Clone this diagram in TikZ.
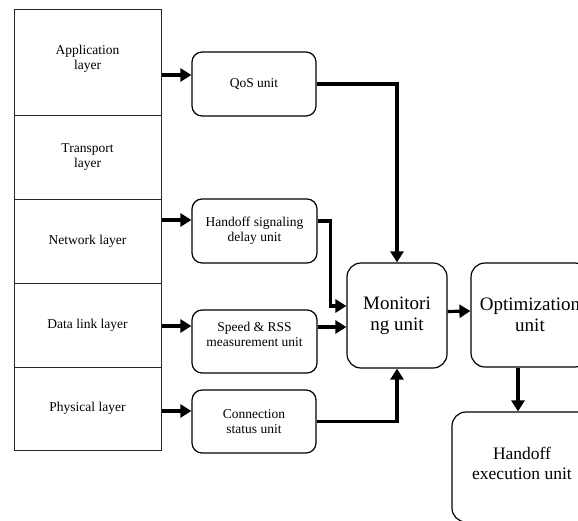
\documentclass[tikz,border=0pt]{standalone}
\usepackage{fontspec}
\setmainfont{Liberation Serif}
\usepackage{tikz}
\usetikzlibrary{arrows.meta}
\usetikzlibrary{positioning}
\tikzset{
    layer/.style = {rectangle, draw=black!85, line width=1pt, align=center, minimum width=147pt, font=\fontsize{13.5}{15}\selectfont},
    unit/.style = {rectangle, rounded corners=10pt, draw=black, line width=1.2pt, align=center, minimum width=124pt, minimum height=64pt, font=\fontsize{13.5}{15}\selectfont},
    bigunit/.style = {rectangle, rounded corners=14pt, draw=black, line width=1.2pt, align=center, font=\fontsize{19}{21}\selectfont},
}

\begin{document}
\begin{tikzpicture}[
	x=1pt,
	y=-1pt
]
\tikzset{
    arr/.style = {-{Triangle[length=11pt,width=13pt]}, line width=3.2pt},
}
\clip (0,0) rectangle (578,520);
\node[layer, minimum height=106pt] at (87.5,62.0) (app) {Application\\layer\\[-5pt]\mbox{}};
\node[layer, minimum height=84pt] at (87.5,157.0) (trans) {Transport\\layer};
\node[layer, minimum height=84pt] at (87.5,241.0) (net) {Network layer};
\node[layer, minimum height=84pt] at (87.5,325.0) (dl) {Data link layer};
\node[layer, minimum height=83pt] at (87.5,408.5) (phy) {Physical layer};
%
\node[unit] at (254.0,84.0) (qos) {QoS unit};
\node[unit, minimum width=125pt] at (254.5,231.0) (hs) {Handoff signaling\\delay unit};
\node[unit, minimum width=125pt, minimum height=63pt, text depth=15pt] at (254.5,341.5) (sp) {Speed \& RSS\\measurement unit};
\node[unit, minimum height=63pt] at (254.0,421.5) (con) {Connection\\status unit};
%
\node[bigunit, minimum width=100pt, minimum height=105pt] at (397.0,315.5) (mon) {Monitori\\ng unit};
\node[bigunit, minimum width=118pt, minimum height=104pt] at (530.0,315.0) (opt) {Optimization\\unit};
\node[bigunit, minimum width=140pt, minimum height=110pt, font=\fontsize{17.5}{20}\selectfont] at (522.0,467.0) (hex) {Handoff\\execution unit\\[-12pt]\mbox{}};
%
\draw[arr] ([yshift=-13pt]app.east) -- ([yshift=9pt]qos.west);
\draw[arr] ([yshift=21pt]net.east) -- ([yshift=11pt]hs.west);
\draw[arr] ([yshift=-1pt]dl.east) -- ([yshift=15.5pt]sp.west);
\draw[arr] ([yshift=-2.5pt]phy.east) -- ([yshift=10.5pt]con.west);
%
\draw[arr] (qos.east) -| (mon.north);
\draw[arr] ([yshift=10pt]hs.east) -- ++(13,0) |- ([yshift=9.5pt]mon.west);
\draw[arr] ([yshift=14.5pt]sp.east) -- ([yshift=-11.5pt]mon.west);
\draw[arr] (con.east) -| (mon.south);
%
\draw[arr] ([yshift=4pt]mon.east) -- ([yshift=4pt]opt.west);
\draw[arr] ([xshift=-12pt]opt.south) -- ([xshift=-4pt]hex.north);
\end{tikzpicture}
\end{document}
